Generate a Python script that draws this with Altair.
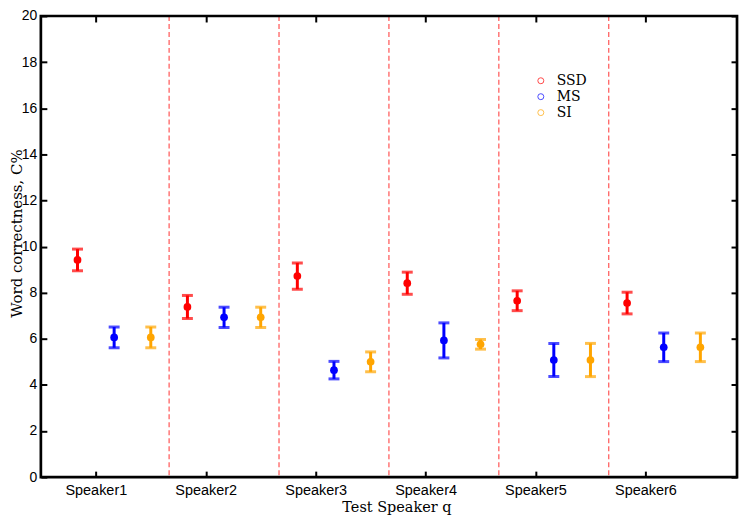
import altair as alt
import pandas as pd

# ---- data ----
speakers = [1, 2, 3, 4, 5, 6]
series = ["SSD", "MS", "SI"]
ssd_mean = [9.42, 7.38, 8.72, 8.41, 7.65, 7.55]
ssd_err = [0.47, 0.50, 0.57, 0.48, 0.43, 0.47]
ms_mean = [6.06, 6.93, 4.64, 5.93, 5.08, 5.63]
ms_err = [0.45, 0.44, 0.38, 0.76, 0.72, 0.62]
si_mean = [6.06, 6.93, 5.00, 5.76, 5.08, 5.63]
si_err = [0.45, 0.44, 0.43, 0.21, 0.72, 0.62]
colors = ["#ff0000", "#0000ff", "#ffa500"]
y_ticks = list(range(0, 21, 2))

# layout offsets of each series inside a speaker group
offsets = {"SSD": -1 / 6, "MS": 1 / 6, "SI": 0.5}

rows = []
for name, means, errs in [("SSD", ssd_mean, ssd_err), ("MS", ms_mean, ms_err), ("SI", si_mean, si_err)]:
    for s, m, e in zip(speakers, means, errs):
        rows.append({"series": name, "x": s + offsets[name], "mean": m, "lo": m - e, "hi": m + e})
df = pd.DataFrame(rows)
div_df = pd.DataFrame({"x": [s + 2 / 3 for s in speakers[:-1]]})

xscale = alt.Scale(domain=[0.5, 6 + 5 / 6], nice=False, zero=False)
yscale = alt.Scale(domain=[0, 20], nice=False)
cscale = alt.Scale(domain=series, range=colors)

sans = "Liberation Sans"
serif = "DejaVu Serif"


def tick_axis(orient, values):
    # inward ticks only
    return alt.Axis(orient=orient, values=values, labels=False, title=None, domain=False, grid=False,
                    ticks=True, tickSize=6, tickWidth=2, tickColor="black", offset=-6)


# plot frame
frame = alt.Chart(pd.DataFrame({"f": [0]})).mark_rect(
    filled=False, stroke="#000000", strokeWidth=2.7, fillOpacity=0
).encode(x=alt.value(0), x2=alt.value("width"), y=alt.value(0), y2=alt.value("height"))

dividers = alt.Chart(div_df).mark_rule(color="#ff4545", strokeWidth=1.1, strokeDash=[5, 3]).encode(
    x=alt.X("x:Q", scale=xscale, axis=None)
)

stems = alt.Chart(df).mark_rule(strokeWidth=3).encode(
    x=alt.X("x:Q", scale=xscale, axis=tick_axis("top", speakers)),
    y=alt.Y("lo:Q", scale=yscale, axis=tick_axis("right", y_ticks)),
    y2="hi:Q",
    color=alt.Color("series:N", scale=cscale, legend=None),
)

cap_lo = alt.Chart(df).mark_tick(orient="horizontal", size=11, thickness=3).encode(
    x=alt.X("x:Q", scale=xscale, axis=None),
    y=alt.Y("lo:Q", scale=yscale, axis=None),
    color=alt.Color("series:N", scale=cscale, legend=None),
)
cap_hi = alt.Chart(df).mark_tick(orient="horizontal", size=11, thickness=3).encode(
    x=alt.X("x:Q", scale=xscale, axis=None),
    y=alt.Y("hi:Q", scale=yscale, axis=None),
    color=alt.Color("series:N", scale=cscale, legend=None),
)

# open circles only for the legend (hidden below the filled dots)
legend_pts = alt.Chart(df).mark_point(filled=False, size=30, strokeWidth=1).encode(
    x=alt.X("x:Q", scale=xscale, axis=None),
    y=alt.Y("mean:Q", scale=yscale, axis=None),
    color=alt.Color(
        "series:N", scale=cscale,
        legend=alt.Legend(
            title=None, orient="none", legendX=490, legendY=53, direction="vertical",
            fillColor="white", padding=5, rowPadding=2,
            symbolType="circle", symbolSize=36,
            symbolStrokeWidth=1, labelOffset=9, labelFont=serif, labelFontSize=14,
            labelColor="black",
        ),
    ),
)

dots = alt.Chart(df).mark_circle(size=60, opacity=1).encode(
    x=alt.X("x:Q", scale=xscale,
            axis=alt.Axis(orient="bottom", values=speakers, labelExpr="'Speaker' + datum.value",
                          title="Test Speaker q", titleFont=serif, titleFontSize=14.5,
                          titleFontWeight="normal", titleColor="black", titlePadding=4, titleX=357,
                          labelFont=sans, labelFontSize=14.5, labelColor="black", labelPadding=6,
                          domain=False, grid=False, tickSize=6, tickWidth=2, tickColor="black", offset=-6)),
    y=alt.Y("mean:Q", scale=yscale,
            axis=alt.Axis(orient="left", values=y_ticks, title="Word correctness, C%",
                          titleFont=serif, titleFontSize=15, titleFontWeight="normal", titleColor="black",
                          titleAngle=270, titleBaseline="middle", titleAlign="center",
                          titleX=-30, titleY=218,
                          labelFont=sans, labelFontSize=14, labelColor="black", labelPadding=4,
                          domain=False, grid=False, tickSize=6, tickWidth=2, tickColor="black", offset=-6)),
    color=alt.Color("series:N", scale=cscale, legend=None),
)

chart = (
    alt.layer(dividers, stems, cap_lo, cap_hi, legend_pts, dots, frame)
    .resolve_axis(x="independent", y="independent")
    .resolve_legend(color="independent")
    .properties(width=699, height=463, autosize=alt.AutoSizeParams(type="none"),
                padding={"left": 33, "top": 7, "right": 2, "bottom": 38}, background="white")
    .configure_view(strokeWidth=0)
)

chart.save("out.html", embed_options={"renderer": "svg", "actions": False})
